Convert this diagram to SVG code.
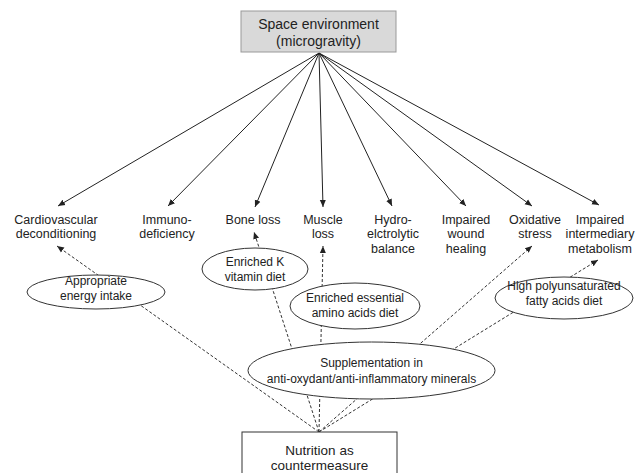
<svg xmlns="http://www.w3.org/2000/svg" width="639" height="473" viewBox="0 0 639 473">
<style>
text{font-family:"Liberation Sans",Arial,sans-serif;fill:#222;text-anchor:middle}
.lbl{font-size:12.5px}
.el{font-size:12px}
.box{font-size:14px}
.nut{font-size:13.5px}
.solid{stroke:#222;stroke-width:1;fill:none}
.dash{stroke:#333;stroke-width:1;stroke-dasharray:3,2;fill:none}
ellipse{fill:#fff;stroke:#333;stroke-width:1}
</style>
<defs>
<marker id="ah" markerUnits="userSpaceOnUse" markerWidth="8" markerHeight="8" viewBox="0 0 8 8" refX="7" refY="4" orient="auto">
<path d="M0,1 L7,4 L0,7 Z" fill="#222"/>
</marker>
</defs>
<g id="connectors">
<line class="solid" x1="319" y1="53" x2="58" y2="206" marker-end="url(#ah)"/>
<line class="solid" x1="319" y1="53" x2="168" y2="206" marker-end="url(#ah)"/>
<line class="solid" x1="319" y1="53" x2="255" y2="207" marker-end="url(#ah)"/>
<line class="solid" x1="319" y1="53" x2="323" y2="207" marker-end="url(#ah)"/>
<line class="solid" x1="319" y1="53" x2="392" y2="206" marker-end="url(#ah)"/>
<line class="solid" x1="319" y1="53" x2="466" y2="206" marker-end="url(#ah)"/>
<line class="solid" x1="319" y1="53" x2="532" y2="206" marker-end="url(#ah)"/>
<line class="solid" x1="319" y1="53" x2="599" y2="205" marker-end="url(#ah)"/>
<line class="dash" x1="319" y1="432" x2="57" y2="246" marker-end="url(#ah)"/>
<line class="dash" x1="319" y1="432" x2="254" y2="232" marker-end="url(#ah)"/>
<line class="dash" x1="319" y1="432" x2="323" y2="246" marker-end="url(#ah)"/>
<line class="dash" x1="319" y1="432" x2="532" y2="246" marker-end="url(#ah)"/>
<line class="dash" x1="319" y1="432" x2="598" y2="260" marker-end="url(#ah)"/>
</g>
<g id="space">
<rect x="241" y="11" width="155" height="41" fill="#d9d9d9" stroke="#999"/>
<text class="box" x="318.5" y="28.5">Space environment</text>
<text class="box" x="318.5" y="46">(microgravity)</text>
</g>
<g id="cardio"><text class="lbl" x="56" y="223.5">Cardiovascular</text><text class="lbl" x="56" y="238">deconditioning</text></g>
<g id="immuno"><text class="lbl" x="167" y="223.5">Immuno-</text><text class="lbl" x="167" y="238">deficiency</text></g>
<g id="bone"><text class="lbl" x="253" y="223.5">Bone loss</text></g>
<g id="muscle"><text class="lbl" x="323" y="223.5">Muscle</text><text class="lbl" x="323" y="238">loss</text></g>
<g id="hydro"><text class="lbl" x="393" y="223.5">Hydro-</text><text class="lbl" x="393" y="238">elctrolytic</text><text class="lbl" x="393" y="252.5">balance</text></g>
<g id="wound"><text class="lbl" x="466" y="223.5">Impaired</text><text class="lbl" x="466" y="238">wound</text><text class="lbl" x="466" y="252.5">healing</text></g>
<g id="oxid"><text class="lbl" x="535" y="223.5">Oxidative</text><text class="lbl" x="535" y="238">stress</text></g>
<g id="metab"><text class="lbl" x="600" y="223.5">Impaired</text><text class="lbl" x="600" y="238">intermediary</text><text class="lbl" x="600" y="252.5">metabolism</text></g>
<g id="energy"><ellipse cx="96" cy="292" rx="69" ry="17"/><text class="el" x="96" y="285">Appropriate</text><text class="el" x="96" y="300">energy intake</text></g>
<g id="vitk"><ellipse cx="255" cy="269" rx="53" ry="21"/><text class="el" x="255" y="266">Enriched K</text><text class="el" x="255" y="281">vitamin diet</text></g>
<g id="amino"><ellipse cx="355" cy="306" rx="65" ry="23"/><text class="el" x="355" y="302">Enriched essential</text><text class="el" x="355" y="317">amino acids diet</text></g>
<g id="pufa"><ellipse cx="564" cy="298" rx="69" ry="21"/><text class="el" x="564" y="290">High polyunsaturated</text><text class="el" x="564" y="305">fatty acids diet</text></g>
<g id="suppl"><ellipse cx="371.5" cy="370.5" rx="123.5" ry="28.5"/><text class="el" x="371.5" y="367">Supplementation in</text><text class="el" x="371.5" y="383">anti-oxydant/anti-inflammatory minerals</text></g>
<g id="nutrition">
<rect x="242" y="432" width="155" height="50" fill="#fff" stroke="#333"/>
<text class="nut" x="319.5" y="455">Nutrition as</text>
<text class="nut" x="319.5" y="470">countermeasure</text>
</g>
</svg>
